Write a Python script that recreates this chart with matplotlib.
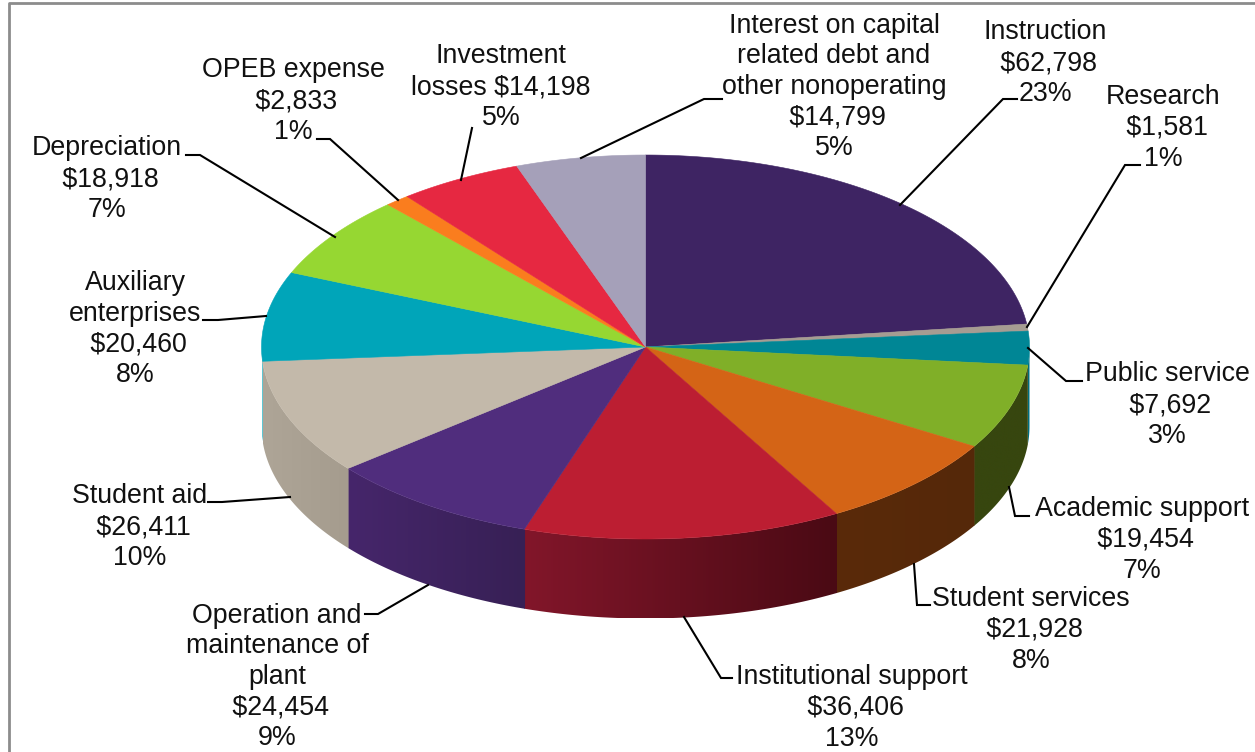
import numpy as np
import matplotlib
matplotlib.use("Agg")
import matplotlib.pyplot as plt
from matplotlib.colors import to_rgb
from matplotlib.patches import Polygon

categories = ["Instruction", "Research", "Public service", "Academic support",
              "Student services", "Institutional support",
              "Operation and\nmaintenance of\nplant", "Student aid",
              "Auxiliary\nenterprises", "Depreciation", "OPEB expense",
              "Investment\nlosses", "Interest on capital\nrelated debt and\nother nonoperating"]
values = [62798, 1581, 7692, 19454, 21928, 36406, 24454, 26411, 20460, 18918, 2833, 14198, 14799]
percents = [23, 1, 3, 7, 8, 13, 9, 10, 8, 7, 1, 5, 5]
top_colors = ["#3E2463", "#A69C92", "#008695", "#80AF28", "#D46416", "#BC1E32", "#502D7D",
              "#C3B9AA", "#00A5B9", "#96D732", "#FA7D1E", "#E62841", "#A5A0B9"]
wall_left = ["#3E2463", "#A69C92", "#006E7D", "#37460F", "#5A2A0A", "#82162A", "#46266B",
             "#AEA597", "#00A5B9", "#96D732", "#FA7D1E", "#E62841", "#A5A0B9"]
wall_right = ["#3E2463", "#A69C92", "#006E7D", "#37460F", "#552809", "#4A0A14", "#372055",
              "#A59C8E", "#00A5B9", "#96D732", "#FA7D1E", "#E62841", "#A5A0B9"]

label_pos = [(1045, 63), (1163, 128), (1167, 405), (1142, 540), (1031, 630), (852, 708), (277, 677),
             (140, 527), (135, 329), (107, 179), (293, 101), (501, 87), (834, 87)]
leaders = [[(1017, 99), (1003, 99), (900, 205)], [(1140, 165), (1125, 165), (1027, 327)],
           [(1082, 381), (1066, 381), (1028, 348)], [(1029, 516), (1015, 516), (1009, 487)],
           [(930, 605), (917, 605), (914, 564)], [(732, 678), (721, 678), (684, 617)],
           [(365, 614), (378, 614), (428, 585)], [(208, 502), (222, 502), (290, 497)],
           [(203, 320), (218, 320), (266, 316)], [(186, 155), (200, 155), (335, 237)],
           [(317, 139), (330, 139), (398, 200)], [(472, 128), (472, 128), (461, 180)],
           [(722, 99), (704, 99), (581, 158)]]

CX, CY, RX, RY, DEPTH = 645.5, 347, 384, 192, 79.5

plt.rcParams["font.family"] = ["Liberation Sans", "DejaVu Sans"]
fig = plt.figure(figsize=(12.55, 7.52), dpi=100)
ax = fig.add_axes([0, 0, 1, 1])
ax.axis("off")

# chart frame (open to the right and the bottom of the crop)
ax.plot([9, 9, 1255], [752, 3, 3], color="#8C8C8C", lw=2, solid_capstyle="butt", zorder=1)

fracs = np.array(values) / sum(values)
edges = np.concatenate([[0], np.cumsum(fracs)]) * 2 * np.pi


def rim(t):
    return CX + RX * np.sin(t), CY - RY * np.cos(t)


# side walls: only the front half of the rim (pi/2 .. 3pi/2) faces the viewer
for i in range(len(values)):
    a, b = max(edges[i], np.pi / 2), min(edges[i + 1], 3 * np.pi / 2)
    if b <= a:
        continue
    ts = np.linspace(a - 0.002, b, max(int((b - a) * 80), 2) + 1)
    xs, ys = rim(ts)
    xl, xr = xs.min(), xs.max()
    outline = np.column_stack([np.r_[xs, xs[::-1]], np.r_[ys, ys[::-1] + DEPTH]])
    clip = Polygon(outline, closed=True, transform=ax.transData, facecolor="none", edgecolor="none")
    ax.add_patch(clip)
    c0, c1 = np.array(to_rgb(wall_left[i])), np.array(to_rgb(wall_right[i]))
    grad = np.linspace(0, 1, 128)[None, :, None]
    img = c0 + (c1 - c0) * grad
    im = ax.imshow(img, extent=(xl, xr, ys.max() + DEPTH, ys.min()), aspect="auto",
                   interpolation="bilinear", zorder=2 + i * 0.01)
    im.set_clip_path(clip)

# top faces
for i in range(len(values)):
    ts = np.linspace(edges[i], edges[i + 1], max(int((edges[i + 1] - edges[i]) * 80), 2) + 1)
    xs, ys = rim(ts)
    pts = np.column_stack([np.r_[CX, xs], np.r_[CY, ys]])
    ax.add_patch(Polygon(pts, closed=True, facecolor=top_colors[i], edgecolor=top_colors[i], lw=0.4, zorder=3))

# leaders and labels
for i, name in enumerate(categories):
    lx, ly = zip(*leaders[i])
    ax.plot(lx, ly, color="black", lw=1.5, zorder=4, solid_joinstyle="miter")
    sep = " " if name == "Investment\nlosses" else "\n "
    txt = f"{name}{sep}${values[i]:,}\n{percents[i]}%"
    ax.text(label_pos[i][0], label_pos[i][1], txt, ha="center", va="center", ma="center",
            fontsize=19.3, color="#111111", linespacing=1.23, zorder=5)

ax.set_xlim(0, 1255)
ax.set_ylim(752, 0)
fig.savefig("out.png", dpi=100, facecolor="white")
